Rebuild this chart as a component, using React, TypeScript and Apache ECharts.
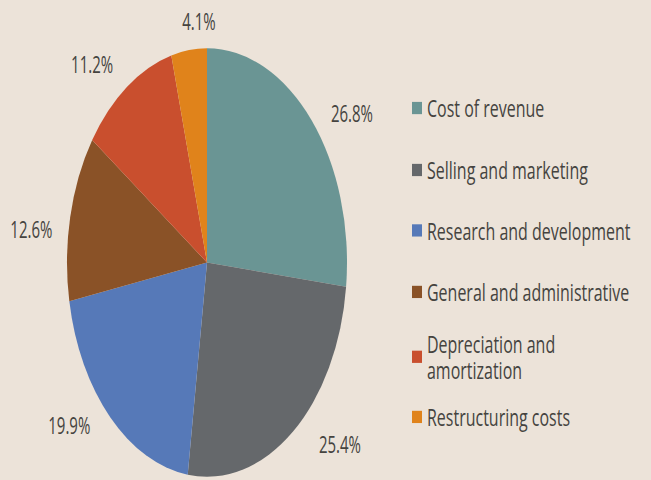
import React, { useEffect, useRef } from "react";
import * as echarts from "echarts";

const categories = [
  "Cost of revenue",
  "Selling and marketing",
  "Research and development",
  "General and administrative",
  "Depreciation and amortization",
  "Restructuring costs",
];
const legendLabels = [
  "Cost of revenue",
  "Selling and marketing",
  "Research and development",
  "General and administrative",
  "Depreciation and\namortization",
  "Restructuring costs",
];
const values = [26.8, 25.4, 19.9, 12.6, 11.2, 4.1];
const colors = ["#6a9594", "#65686b", "#5679b8", "#8a5227", "#c94f2e", "#e0831b"];

const SCALE_Y = 1.53;
const W = 651;
const H = 480;
const innerH = H / SCALE_Y;

export default function App() {
  const ref = useRef<HTMLDivElement>(null);
  useEffect(() => {
    if (!ref.current) return;
    const chart = echarts.init(ref.current, undefined, { renderer: "svg" });
    const legendIconCenters = [70.6, 111.1, 150.6, 190.8, 232.7, 272.5];
    // small label nudges (px, before vertical stretch)
    const nudgeX = [-1, 7, 0, 5, 5, 41];
    const nudgeY = [2.5, 0, -2, 9.8, -6.5, -9.2];
    const legends = categories.map((name, i) => {
      const twoLine = legendLabels[i].includes("\n");
      return {
        show: true,
        orient: "vertical",
        left: 412,
        top: legendIconCenters[i] - (twoLine ? 25 : 8.5),
        padding: 0,
        itemWidth: 10,
        itemHeight: 8,
        itemGap: 0,
        icon: "rect",
        selectedMode: false,
        data: [name],
        formatter: () => legendLabels[i],
        textStyle: {
          fontFamily: "Open Sans",
          fontSize: 16,
          lineHeight: 17,
          color: "#45433f",
          padding: twoLine ? [17, 0, 0, 0] : 0,
        },
        itemStyle: { borderWidth: 0 },
        textGap: 4,
      };
    });
    chart.setOption({
      animation: false,
      backgroundColor: "#ece3d9",
      color: colors,
      legend: legends,
      series: [
        {
          type: "pie",
          center: [207, 171.6],
          radius: 140,
          startAngle: 90,
          clockwise: true,
          avoidLabelOverlap: false,
          data: categories.map((name, i) => ({ name, value: values[i] })),
          label: {
            show: true,
            position: "outside",
            overflow: "none",
            formatter: (p: any) => `${Number(p.value).toFixed(1)}%`,
            fontFamily: "Open Sans",
            fontSize: 15,
            color: "#45433f",
          },
          labelLayout: (p: any) => ({
            dx: nudgeX[p.dataIndex] || 0,
            dy: nudgeY[p.dataIndex] || 0,
          }),
          labelLine: { show: false, length: 10, length2: 8 },
          itemStyle: { borderWidth: 0 },
          emphasis: { disabled: true },
        },
      ],
    });
    return () => chart.dispose();
  }, []);
  return (
    <div
      style={{
        position: "fixed",
        left: 0,
        top: 0,
        width: W,
        height: H,
        overflow: "hidden",
        background: "#ece3d9",
      }}
    >
      <div
        ref={ref}
        style={{
          width: W,
          height: innerH,
          transform: `scaleY(${SCALE_Y})`,
          transformOrigin: "top left",
        }}
      />
    </div>
  );
}
